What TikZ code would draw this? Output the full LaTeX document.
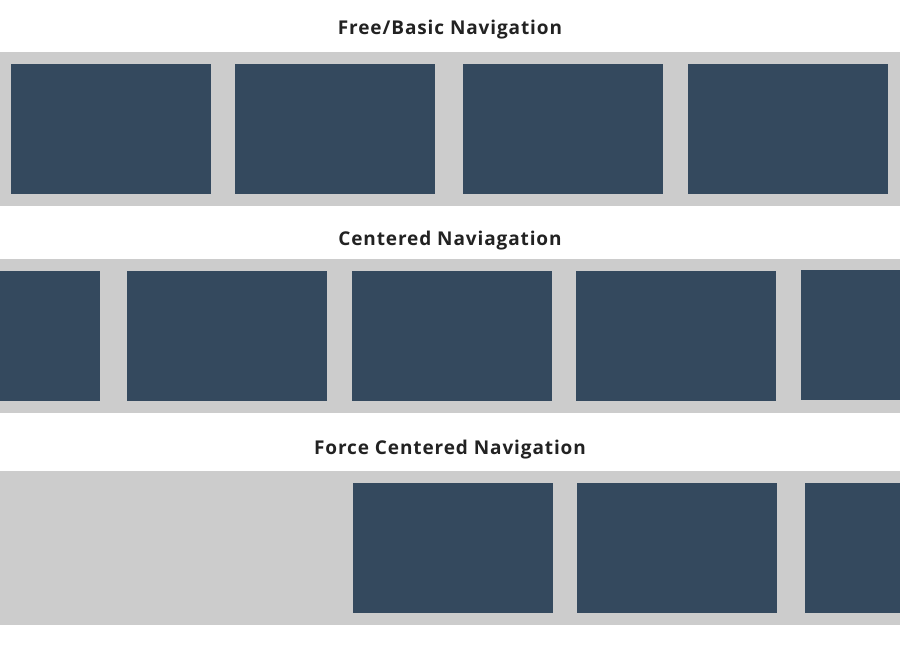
\documentclass[tikz,border=0pt]{standalone}
\usepackage{fontspec}
\setmainfont{Open Sans}
\newfontfamily\titlefont[LetterSpace=4.7]{Open Sans}
\definecolor{bandgray}{HTML}{CCCCCC}
\definecolor{slide}{HTML}{34495E}
\definecolor{titleink}{HTML}{222222}
\tikzset{
  band/.style={fill=bandgray},
  slidebox/.style={fill=slide},
  rowtitle/.style={font=\titlefont\bfseries\fontsize{19}{21}\selectfont, text=titleink, inner sep=0pt, anchor=base}
}
\begin{document}
\begin{tikzpicture}[x=1pt,y=-1pt]
  \useasboundingbox (0,0) rectangle (900,650);
  \clip (0,0) rectangle (900,650);
  \fill[white] (0,0) rectangle (900,650);

  % free / basic navigation
  \node[rowtitle] (t1) at (450,35) {Free/Basic Navigation};
  \fill[band] (0,52) rectangle (900,206);
  \foreach \x in {11,235,463,688} \fill[slidebox] (\x,64) rectangle ++(200,130);

  % centered navigation
  \node[rowtitle] (t2) at (450,245) {Centered Naviagation};
  \fill[band] (0,259) rectangle (900,413);
  \fill[slidebox] (-100,271) rectangle (100,401);
  \foreach \x in {127,352,576} \fill[slidebox] (\x,271) rectangle ++(200,130);
  \fill[slidebox] (801,270) rectangle ++(200,130);

  % force centered navigation
  \node[rowtitle] (t3) at (450,454) {Force Centered Navigation};
  \fill[band] (0,471) rectangle (900,625);
  \foreach \x in {353,577,805} \fill[slidebox] (\x,483) rectangle ++(200,130);
\end{tikzpicture}
\end{document}
